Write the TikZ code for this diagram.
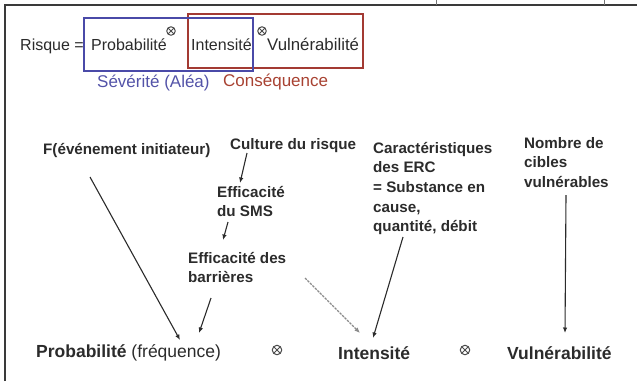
\documentclass[tikz,border=0pt]{standalone}
\usepackage{fontspec}
\setmainfont{Liberation Sans}
\usetikzlibrary{arrows.meta,calc}
\definecolor{ink}{HTML}{2B2B2B}
\definecolor{boxblue}{HTML}{4A4AA8}
\definecolor{boxred}{HTML}{A33A33}
\definecolor{lblblue}{HTML}{5353A8}
\definecolor{lblred}{HTML}{A84232}
\definecolor{frame}{HTML}{3A3A3A}
\tikzset{
  eq/.style={font=\fontsize{16bp}{19bp}\selectfont, text=ink, inner sep=0pt, anchor=base west},
  lbl/.style={font=\fontsize{17bp}{20bp}\selectfont, inner sep=0pt, anchor=base west},
  smalltxt/.style={font=\fontsize{15.2bp}{19.7bp}\selectfont\bfseries, text=ink, inner sep=0pt, anchor=base west, align=left},
  bigtxt/.style={font=\fontsize{17.5bp}{20bp}\selectfont, text=ink, inner sep=0pt, anchor=base west},
  bigbold/.style={bigtxt, font=\fontsize{17.5bp}{20bp}\selectfont\bfseries},
  otimes/.style={circle, draw=ink!85, line width=1bp, inner sep=0pt, minimum size=#1,
    path picture={\draw[ink!85, line width=1bp]
      (path picture bounding box.north west) -- (path picture bounding box.south east)
      (path picture bounding box.north east) -- (path picture bounding box.south west);}},
  arr/.style={-{Latex[length=5.5bp,width=4.5bp]}, line width=1.1bp, draw=ink},
  grayarr/.style={-{Latex[length=5.5bp,width=4.5bp]}, line width=1.1bp, draw=ink!55, dash pattern=on 2.5bp off 1bp},
  boxline/.style={line width=2bp},
}
\begin{document}
\begin{tikzpicture}[x=1bp,y=-1bp]
\useasboundingbox (0,0) rectangle (637,381);
% frame
\draw[frame, line width=1.2bp] (5,381) -- (5,5) -- (637,5);
\draw[frame!70, line width=0.8bp] (436,0) -- (436,5) (604,0) -- (604,5);

% top equation
\draw[boxred, boxline] (188,14) rectangle (363,68);
\draw[boxblue, boxline] (84,18) rectangle (253,71);
\node[eq] (risq) at (20,50) {Risque =};
\node[eq] (tprob) at (91,50) {Probabilité};
\node[otimes=8.5bp] (tx1) at (171,31) {};
\node[eq] (tint) at (191,50) {Intensité};
\node[otimes=8.5bp] (tx2) at (262,31) {};
\node[eq, font=\fontsize{16.8bp}{19bp}\selectfont] (tvul) at (267,50) {Vulnérabilité};
\node[lbl, text=lblblue] (sev) at (97,87) {Sévérité (Aléa)};
\node[lbl, text=lblred] (cons) at (223,86) {Conséquence};

% factors (multi-line nodes: base = baseline of the last line)
\node[smalltxt] (fev) at (43,154) {F(événement initiateur)};
\node[smalltxt] (cult) at (230,149) {Culture du risque};
\node[smalltxt] (sms) at (217,216.7) {Efficacité\\du SMS};
\node[smalltxt] (barr) at (188,282.7) {Efficacité des\\barrières};
\node[smalltxt] (carac) at (373,231.8) {Caractéristiques\\des ERC\\= Substance en\\cause,\\quantité, débit};
\node[smalltxt] (nomb) at (524,187.4) {Nombre de\\cibles\\vulnérables};

% bottom row
\node[bigtxt] (prob) at (36,357) {\textbf{Probabilité} (fréquence)};
\node[otimes=9.5bp] (bx1) at (277,350) {};
\node[bigbold] (int) at (338,359) {Intensité};
\node[otimes=9.5bp] (bx2) at (465,350) {};
\node[bigbold] (vul) at (507,359) {Vulnérabilité};

% connectors
\draw[arr] ($(fev.base west)+(47,23)$) -- ($(prob.base west)+(144,-17)$);
\draw[arr] ($(cult.base west)+(17,4)$) -- ($(sms.base west)+(23,-33.7)$);
\draw[arr] ($(sms.base west)+(11,5.3)$) -- ($(barr.base west)+(35,-42.7)$);
\draw[arr] ($(barr.base west)+(23,15.3)$) -- ($(prob.base west)+(163,-24)$);
\draw[grayarr] ($(barr.base west)+(117,-4.7)$) -- ($(int.base west)+(22,-26)$);
\draw[arr] ($(carac.base west)+(30,5.2)$) -- ($(int.base west)+(35,-21)$);
\draw[arr] ($(nomb.base west)+(42,7.6)$) -- ($(vul.base west)+(58,-26)$);
\end{tikzpicture}
\end{document}
